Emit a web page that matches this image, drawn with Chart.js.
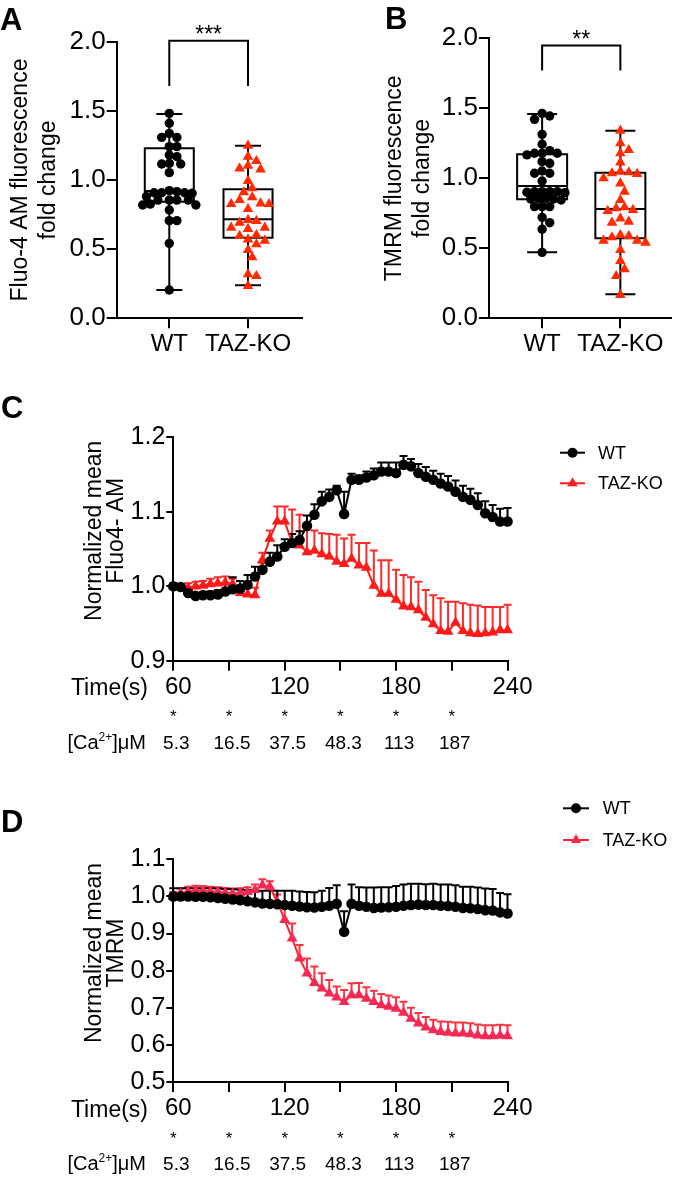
<!DOCTYPE html>
<html>
<head>
<meta charset="utf-8">
<title>Fluo-4 AM and TMRM, WT vs TAZ-KO</title>
<script src="https://cdn.jsdelivr.net/npm/chart.js@4.4.1/dist/chart.umd.min.js"></script>
<style>
  html, body { margin: 0; padding: 0; background: #fff; }
  #page { position: relative; width: 677px; height: 1178px; overflow: hidden; }
  canvas { position: absolute; }
</style>
</head>
<body>
<div id="page">
  <canvas id="chartA" width="340" height="380" style="left:0;top:0"></canvas>
  <canvas id="chartB" width="337" height="380" style="left:340px;top:0"></canvas>
  <canvas id="chartC" width="677" height="390" style="left:0;top:385px"></canvas>
  <canvas id="chartD" width="677" height="403" style="left:0;top:775px"></canvas>
</div>
<script>
const FONT = '"Liberation Sans", Arial, Helvetica, sans-serif';
Chart.defaults.font.family = FONT;
Chart.defaults.color = '#000';

// ---- panels A / B: fold change per cell
const groups = ['WT', 'TAZ-KO'];

const fluoWT = [1.482, 1.410, 1.337, 1.308, 1.308, 1.241, 1.241, 1.181, 1.169, 1.116, 1.120, 1.116, 1.053,
  0.923, 0.916, 0.908, 0.908, 0.904, 0.880, 0.908, 0.855, 0.855, 0.855, 0.855, 0.819, 0.819, 0.826,
  0.783, 0.706, 0.706, 0.542, 0.205];
const fluoKO = [1.248, 1.137, 1.169, 1.084, 1.104, 1.077, 0.993, 0.911, 0.940, 0.855, 0.875, 0.790,
  0.826, 0.826, 0.831, 0.704, 0.692, 0.711, 0.646, 0.655, 0.655, 0.602, 0.595, 0.535, 0.561, 0.571,
  0.494, 0.441, 0.318, 0.306, 0.234];
const fluoMin = [0.205, 0.239];
const fluoQ1 = [0.843, 0.583];
const fluoMed = [0.920, 0.716];
const fluoQ3 = [1.229, 0.933];
const fluoMax = [1.477, 1.248];

const tmrmWT = [1.464, 1.445, 1.421, 1.314, 1.243, 1.198, 1.179, 1.179, 1.179, 1.167, 1.119, 1.107,
  1.052, 1.036, 1.036, 0.981, 0.905, 0.905, 0.905, 0.905, 0.898, 0.900, 0.857, 0.857, 0.845, 0.852,
  0.852, 0.798, 0.798, 0.798, 0.721, 0.683, 0.636, 0.471];
const tmrmKO = [1.340, 1.202, 1.250, 1.179, 1.114, 1.031, 1.043, 1.048, 1.036, 1.000, 0.964, 0.905,
  0.845, 0.786, 0.767, 0.793, 0.774, 0.714, 0.683, 0.690, 0.540, 0.588, 0.595, 0.555, 0.555, 0.579,
  0.488, 0.410, 0.350, 0.302, 0.167];
const tmrmMin = [0.471, 0.171];
const tmrmQ1 = [0.850, 0.571];
const tmrmMed = [0.945, 0.781];
const tmrmQ3 = [1.171, 1.040];
const tmrmMax = [1.460, 1.340];

// ---- panels C / D: time courses (mean + SEM)
const times = [60, 64, 68, 72, 76, 80, 84, 88, 92, 96, 100, 104, 108, 112, 116, 120, 124, 128, 132, 136,
  140, 144, 148, 152, 156, 160, 164, 168, 172, 176, 180, 184, 188, 192, 196, 200, 204, 208, 212, 216,
  220, 224, 228, 232, 236, 240];

const fluoTimeWT = [1.000, 0.999, 0.991, 0.987, 0.988, 0.988, 0.989, 0.993, 0.996, 0.997,
  1.002, 1.013, 1.022, 1.033, 1.040, 1.053, 1.058, 1.062, 1.081, 1.096,
  1.114, 1.120, 1.129, 1.097, 1.143, 1.143, 1.146, 1.149, 1.154, 1.154,
  1.152, 1.163, 1.161, 1.152, 1.147, 1.143, 1.138, 1.134, 1.127, 1.120,
  1.116, 1.109, 1.098, 1.093, 1.087, 1.087];
const fluoTimeWTErr = [0.003, 0.003, 0.004, 0.004, 0.004, 0.005, 0.006, 0.010, 0.016, 0.010,
  0.013, 0.013, 0.010, 0.012, 0.015, 0.010, 0.012, 0.012, 0.014, 0.014,
  0.013, 0.010, 0.006, 0.030, 0.008, 0.006, 0.008, 0.009, 0.012, 0.012,
  0.014, 0.012, 0.010, 0.012, 0.013, 0.012, 0.013, 0.014, 0.015, 0.015,
  0.015, 0.016, 0.016, 0.016, 0.017, 0.018];
const fluoTimeKO = [1.000, 0.998, 0.998, 1.000, 1.001, 1.003, 1.004, 1.005, 1.003, 0.991,
  0.989, 0.988, 1.035, 1.064, 1.087, 1.087, 1.058, 1.055, 1.046, 1.048,
  1.043, 1.040, 1.033, 1.030, 1.037, 1.028, 1.025, 1.001, 0.990, 0.990,
  0.982, 0.973, 0.972, 0.968, 0.958, 0.949, 0.940, 0.939, 0.951, 0.940,
  0.937, 0.936, 0.937, 0.938, 0.941, 0.941];
const fluoTimeKOErr = [0.004, 0.005, 0.006, 0.006, 0.006, 0.007, 0.008, 0.008, 0.007, 0.009,
  0.009, 0.010, 0.010, 0.011, 0.020, 0.020, 0.045, 0.041, 0.036, 0.027,
  0.028, 0.030, 0.036, 0.034, 0.032, 0.030, 0.033, 0.047, 0.045, 0.045,
  0.040, 0.042, 0.040, 0.038, 0.037, 0.039, 0.044, 0.040, 0.028, 0.037,
  0.038, 0.038, 0.035, 0.034, 0.031, 0.034];

const tmrmTimeWT = [1.000, 1.000, 1.000, 0.999, 0.999, 0.998, 0.996, 0.994, 0.992, 0.990,
  0.987, 0.984, 0.981, 0.980, 0.979, 0.977, 0.975, 0.973, 0.971, 0.970,
  0.972, 0.975, 0.980, 0.905, 0.980, 0.975, 0.972, 0.969, 0.970, 0.971,
  0.972, 0.975, 0.977, 0.978, 0.977, 0.977, 0.975, 0.974, 0.972, 0.969,
  0.968, 0.966, 0.963, 0.962, 0.957, 0.954];
const tmrmTimeWTErr = [0.022, 0.022, 0.022, 0.023, 0.023, 0.024, 0.025, 0.026, 0.027, 0.028,
  0.030, 0.032, 0.034, 0.035, 0.036, 0.038, 0.040, 0.040, 0.041, 0.041,
  0.043, 0.048, 0.050, 0.055, 0.052, 0.050, 0.052, 0.055, 0.055, 0.054,
  0.056, 0.057, 0.057, 0.056, 0.056, 0.057, 0.057, 0.058, 0.058, 0.057,
  0.058, 0.058, 0.058, 0.058, 0.052, 0.052];
const tmrmTimeKO = [0.999, 1.008, 1.013, 1.016, 1.015, 1.013, 1.012, 1.010, 1.008, 1.009,
  1.012, 1.018, 1.030, 1.026, 0.985, 0.937, 0.887, 0.833, 0.793, 0.767,
  0.752, 0.739, 0.728, 0.716, 0.734, 0.734, 0.725, 0.716, 0.707, 0.703,
  0.698, 0.687, 0.671, 0.658, 0.647, 0.640, 0.635, 0.633, 0.631, 0.631,
  0.629, 0.626, 0.624, 0.624, 0.625, 0.624];
const tmrmTimeKOErr = [0.013, 0.013, 0.013, 0.013, 0.013, 0.013, 0.013, 0.013, 0.013, 0.013,
  0.013, 0.014, 0.016, 0.015, 0.020, 0.035, 0.040, 0.036, 0.040, 0.044,
  0.041, 0.036, 0.029, 0.032, 0.032, 0.033, 0.030, 0.030, 0.030, 0.030,
  0.030, 0.029, 0.029, 0.028, 0.028, 0.028, 0.028, 0.029, 0.029, 0.029,
  0.029, 0.029, 0.029, 0.029, 0.029, 0.029];

// calcium additions
const caTimes = [60, 90, 120, 150, 180, 210];
const caLabels = ['5.3', '16.5', '37.5', '48.3', '113', '187'];

// ---------------------------------------------------------------------------

const axisLine = { display: true, color: '#000', width: 2 };
function tickGrid(len) {
  return { display: true, drawOnChartArea: false, drawTicks: true, tickLength: len, color: '#000', lineWidth: 2 };
}

// spread points sideways so they don't overlap too much (beeswarm)
function swarm(chart, dsIndex, values, group, gap) {
  const ys = chart.scales.y, xs = chart.scales.x;
  const unit = xs.getPixelForValue(1) - xs.getPixelForValue(0);
  const order = values.map((v, i) => i).sort((a, b) => values[b] - values[a]);
  const placed = [];
  const out = new Array(values.length);
  order.forEach(i => {
    const py = ys.getPixelForValue(values[i]);
    let dx = 0;
    for (let k = 0; k < 60; k++) {
      const c = (k % 2 ? 1 : -1) * Math.ceil(k / 2) * gap * 0.5;
      if (placed.every(p => (p.x - c) ** 2 + (p.y - py) ** 2 >= gap * gap)) { dx = c; break; }
    }
    placed.push({ x: dx, y: py });
    out[i] = { x: group + dx / unit, y: values[i] };
  });
  chart.data.datasets[dsIndex].data = out;
}

function boxPlugin(p) {
  return {
    id: 'boxes',
    beforeDatasetsDraw(chart) {
      const { ctx, scales: { x, y } } = chart;
      ctx.save();
      ctx.strokeStyle = '#000';
      ctx.lineWidth = 2;
      groups.forEach((g, i) => {
        const cx = x.getPixelForValue(i);
        const yq1 = y.getPixelForValue(p.q1[i]), yq3 = y.getPixelForValue(p.q3[i]);
        const ymed = y.getPixelForValue(p.med[i]);
        const ylo = y.getPixelForValue(p.lo[i]), yhi = y.getPixelForValue(p.hi[i]);
        ctx.beginPath();
        ctx.rect(cx - p.boxHalf, yq3, p.boxHalf * 2, yq1 - yq3);
        ctx.moveTo(cx - p.boxHalf, ymed); ctx.lineTo(cx + p.boxHalf, ymed);
        ctx.moveTo(cx, yq3); ctx.lineTo(cx, yhi);
        ctx.moveTo(cx, yq1); ctx.lineTo(cx, ylo);
        ctx.moveTo(cx - p.capHalf, yhi); ctx.lineTo(cx + p.capHalf, yhi);
        ctx.moveTo(cx - p.capHalf, ylo); ctx.lineTo(cx + p.capHalf, ylo);
        ctx.stroke();
      });
      ctx.restore();
    },
    afterDraw(chart) {
      const { ctx, scales: { x, y } } = chart;
      const x0 = x.getPixelForValue(0), x1 = x.getPixelForValue(1);
      const top = y.getPixelForValue(p.bracket[0]), leg = y.getPixelForValue(p.bracket[1]);
      ctx.save();
      ctx.strokeStyle = '#000';
      ctx.lineWidth = 2;
      ctx.beginPath();
      ctx.moveTo(x0, leg); ctx.lineTo(x0, top); ctx.lineTo(x1, top); ctx.lineTo(x1, leg);
      ctx.stroke();
      ctx.fillStyle = '#000';
      ctx.font = '23px ' + FONT;
      ctx.textAlign = 'center';
      ctx.textBaseline = 'alphabetic';
      ctx.fillText(p.stars, (x0 + x1) / 2, top + 1);
      ctx.font = 'bold 31px ' + FONT;
      ctx.textAlign = 'left';
      ctx.fillText(p.letter, p.letterPos[0], p.letterPos[1]);
      ctx.restore();
    }
  };
}

function boxPanel(id, p) {
  const chart = new Chart(document.getElementById(id), {
    type: 'scatter',
    data: {
      datasets: [
        { label: groups[0], data: p.wt.map(v => ({ x: 0, y: v })), pointStyle: 'circle', pointRadius: 4.7,
          pointBackgroundColor: '#000', pointBorderWidth: 0, clip: false },
        { label: groups[1], data: p.ko.map(v => ({ x: 1, y: v })), pointStyle: 'triangle', pointRadius: 6.1,
          pointBackgroundColor: '#ff2a00', pointBorderWidth: 0, clip: false }
      ]
    },
    options: {
      responsive: false,
      animation: false,
      events: [],
      layout: { padding: p.padding },
      plugins: { legend: { display: false }, tooltip: { enabled: false } },
      scales: {
        x: {
          type: 'linear', min: p.xRange[0], max: p.xRange[1],
          afterBuildTicks: s => { s.ticks = [{ value: 0 }, { value: 1 }]; },
          afterFit: s => { s.height = 40; },
          ticks: { callback: v => groups[v], font: { size: 24 }, padding: 2, maxRotation: 0 },
          grid: tickGrid(10), border: axisLine
        },
        y: {
          min: 0, max: 2,
          afterFit: s => { s.width = p.yWidth; },
          ticks: { stepSize: 0.5, callback: v => v.toFixed(1), font: { size: 26 }, padding: 1 },
          grid: tickGrid(10), border: axisLine,
          title: { display: true, text: p.yTitle, font: { size: 23, lineHeight: 1.2 }, padding: { top: p.titlePad, bottom: 0 } }
        }
      }
    },
    plugins: [boxPlugin(p)]
  });
  swarm(chart, 0, p.wt, 0, 7.6);
  swarm(chart, 1, p.ko, 1, 8.4);
  chart.update('none');
}

// upward SEM bars
const errorBars = {
  id: 'errorBars',
  beforeDatasetsDraw(chart) {
    const { ctx, scales: { y } } = chart;
    for (let di = chart.data.datasets.length - 1; di >= 0; di--) {
      const ds = chart.data.datasets[di];
      const meta = chart.getDatasetMeta(di);
      ctx.save();
      ctx.strokeStyle = ds.barColor;
      ctx.lineWidth = 2;
      ctx.beginPath();
      meta.data.forEach((pt, i) => {
        const top = y.getPixelForValue(ds.data[i].y + ds.err[i]);
        ctx.moveTo(pt.x, pt.y); ctx.lineTo(pt.x, top);
        ctx.moveTo(pt.x - 4, top); ctx.lineTo(pt.x + 4, top);
      });
      ctx.stroke();
      ctx.restore();
    }
  }
};

function marker(ctx, style, x, y, r) {
  ctx.beginPath();
  if (style === 'triangle') {
    ctx.moveTo(x, y - r);
    ctx.lineTo(x + 0.866 * r, y + 0.5 * r);
    ctx.lineTo(x - 0.866 * r, y + 0.5 * r);
    ctx.closePath();
  } else {
    ctx.arc(x, y, r, 0, Math.PI * 2);
  }
  ctx.fill();
}

function timeExtras(p) {
  return {
    id: 'timeExtras',
    afterDraw(chart) {
      const { ctx, scales: { x } } = chart;
      ctx.save();
      ctx.fillStyle = '#000';
      ctx.font = 'bold 31px ' + FONT;
      ctx.textAlign = 'left';
      ctx.textBaseline = 'alphabetic';
      ctx.fillText(p.letter, 1, p.letterY);

      // rotated y title
      ctx.font = '23px ' + FONT;
      ctx.textAlign = 'center';
      ctx.textBaseline = 'middle';
      p.yTitle.forEach((line, i) => {
        ctx.save();
        ctx.translate(p.titleX[i], p.titleY);
        ctx.rotate(-Math.PI / 2);
        ctx.fillText(line, 0, 0);
        ctx.restore();
      });

      ctx.textAlign = 'right';
      ctx.textBaseline = 'alphabetic';
      ctx.fillText('Time(s)', 148, p.timeY);

      ctx.font = '17px ' + FONT;
      ctx.textAlign = 'center';
      caTimes.forEach(t => ctx.fillText('*', x.getPixelForValue(t), p.starY));

      ctx.font = '19px ' + FONT;
      caTimes.forEach((t, i) => ctx.fillText(caLabels[i], x.getPixelForValue(t) + 3, p.caY));

      // [Ca2+]μM with superscript
      ctx.font = '20px ' + FONT;
      const w1 = ctx.measureText('[Ca').width, w3 = ctx.measureText(']\u03bcM').width;
      ctx.font = '12px ' + FONT;
      const w2 = ctx.measureText('2+').width;
      let cx = 146 - (w1 + w2 + w3);
      ctx.textAlign = 'left';
      ctx.font = '20px ' + FONT;
      ctx.fillText('[Ca', cx, p.caY);
      cx += w1;
      ctx.font = '12px ' + FONT;
      ctx.fillText('2+', cx, p.caY - 8);
      cx += w2;
      ctx.font = '20px ' + FONT;
      ctx.fillText(']\u03bcM', cx, p.caY);

      // legend
      chart.data.datasets.forEach((ds, i) => {
        const yy = p.legendY[i];
        ctx.strokeStyle = ds.borderColor;
        ctx.lineWidth = 2;
        ctx.beginPath();
        ctx.moveTo(p.legendX[0], yy); ctx.lineTo(p.legendX[1], yy);
        ctx.stroke();
        ctx.fillStyle = ds.pointBackgroundColor;
        marker(ctx, ds.pointStyle, (p.legendX[0] + p.legendX[1]) / 2, yy, ds.pointStyle === 'triangle' ? 6 : 5);
        ctx.fillStyle = '#000';
        ctx.font = '18px ' + FONT;
        ctx.textAlign = 'left';
        ctx.textBaseline = 'middle';
        ctx.fillText(ds.label, p.legendX[2], yy + 1);
      });
      ctx.restore();
    }
  };
}

function timePanel(id, p) {
  new Chart(document.getElementById(id), {
    type: 'line',
    data: {
      datasets: [
        { label: groups[0], data: times.map((t, i) => ({ x: t, y: p.wt[i] })), err: p.wtErr, barColor: '#000',
          borderColor: '#000', borderWidth: 2, pointStyle: 'circle', pointRadius: 5.3,
          pointBackgroundColor: '#000', pointBorderWidth: 0, clip: false },
        { label: groups[1], data: times.map((t, i) => ({ x: t, y: p.ko[i] })), err: p.koErr, barColor: p.redBar,
          borderColor: p.red, borderWidth: 2, pointStyle: 'triangle', pointRadius: 6.3,
          pointBackgroundColor: p.redFill, pointBorderWidth: 0, clip: false }
      ]
    },
    options: {
      responsive: false,
      animation: false,
      events: [],
      layout: { padding: p.padding },
      plugins: { legend: { display: false }, tooltip: { enabled: false } },
      scales: {
        x: {
          type: 'linear', min: 60, max: 240,
          afterFit: s => { s.height = 40; },
          ticks: { stepSize: 30, callback: v => (v % 60 === 0 ? String(v) : ''), font: { size: 24 },
                   padding: 2, labelOffset: 5, maxRotation: 0, autoSkip: false },
          grid: tickGrid(10), border: axisLine
        },
        y: {
          min: p.yRange[0], max: p.yRange[1],
          afterFit: s => { s.width = 173.3; },
          ticks: { stepSize: 0.1, callback: v => v.toFixed(1), font: { size: 25 }, padding: 1 },
          grid: tickGrid(7), border: axisLine
        }
      }
    },
    plugins: [errorBars, timeExtras(p)]
  });
}

boxPanel('chartA', {
  wt: fluoWT, ko: fluoKO, lo: fluoMin, q1: fluoQ1, med: fluoMed, q3: fluoQ3, hi: fluoMax,
  xRange: [-0.668, 1.682], yWidth: 116.7, padding: { left: 0, top: 41.7, right: 38.3, bottom: 21.7 },
  yTitle: ['Fluo-4 AM fluorescence', 'fold change'], titlePad: 7.2,
  boxHalf: 24.5, capHalf: 13, bracket: [2.007, 1.68], stars: '***', letter: 'A', letterPos: [0, 30]
});

boxPanel('chartB', {
  wt: tmrmWT, ko: tmrmKO, lo: tmrmMin, q1: tmrmQ1, med: tmrmMed, q3: tmrmQ3, hi: tmrmMax,
  xRange: [-0.679, 1.646], yWidth: 149, padding: { left: 0, top: 38.3, right: 2, bottom: 21.7 },
  yTitle: ['TMRM fluorescence', 'fold change'], titlePad: 41,
  boxHalf: 25, capHalf: 15, bracket: [1.948, 1.77], stars: '**', letter: 'B', letterPos: [45, 28.5]
});

timePanel('chartC', {
  wt: fluoTimeWT, wtErr: fluoTimeWTErr, ko: fluoTimeKO, koErr: fluoTimeKOErr,
  red: '#ff1a1a', redFill: '#ff1a1a', redBar: '#ff2a2a',
  yRange: [0.9, 1.2], padding: { left: 0, top: 52.3, right: 169.5, bottom: 74.3 },
  letter: 'C', letterY: 33, yTitle: ['Normalized mean', 'Fluo4- AM'], titleX: [94.8, 116.8], titleY: 145.8,
  timeY: 310, starY: 337.4, caY: 364, legendX: [560, 585, 598], legendY: [67.7, 98.3]
});

timePanel('chartD', {
  wt: tmrmTimeWT, wtErr: tmrmTimeWTErr, ko: tmrmTimeKO, koErr: tmrmTimeKOErr,
  red: '#ff2030', redFill: '#f42a55', redBar: '#ff3040',
  yRange: [0.5, 1.1], padding: { left: 0, top: 84.3, right: 169.5, bottom: 56 },
  letter: 'D', letterY: 56.5, yTitle: ['Normalized mean', 'TMRM'], titleX: [94.8, 116.8], titleY: 178,
  timeY: 341.7, starY: 368.7, caY: 395, legendX: [563, 589, 602.7], legendY: [33.3, 65]
});
</script>
</body>
</html>
